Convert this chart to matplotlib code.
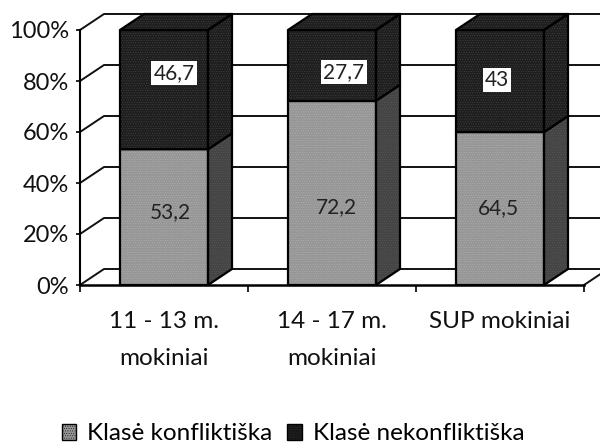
import matplotlib
matplotlib.use("Agg")
import matplotlib.pyplot as plt
from matplotlib.patches import Polygon, Rectangle

plt.rcParams['font.family'] = ['Lato', 'DejaVu Sans']
plt.rcParams['hatch.linewidth'] = 0.3

# Datos
categorias = ['11 - 13 m.\nmokiniai', '14 - 17 m.\nmokiniai', 'SUP mokiniai']
konfliktiska = [53.2, 72.2, 64.5]
nekonfliktiska = [46.7, 27.7, 43]
serie_nombres = ['Klasė konfliktiška', 'Klasė nekonfliktiška']
y_ticks = [0, 20, 40, 60, 80, 100]
y_labels = ['0%', '20%', '40%', '60%', '80%', '100%']

W, H = 600, 446
fig = plt.figure(figsize=(W / 100, H / 100), dpi=100)
ax = fig.add_axes([80 / W, (H - 285) / H, 504 / W, 255 / H])
ax.set_xlim(0, 3)
ax.set_ylim(0, 100)

# Profundidad 3D en unidades de datos
dx = 24 / 168
dy = 16 / 255 * 100
ancho = 88 / 168
TRAMA = '.......'


def poligono(puntos, color, ctrama, z):
    ax.add_patch(Polygon(puntos, closed=True, facecolor=color, edgecolor=ctrama, hatch=TRAMA, lw=0, zorder=z,
                         clip_on=False))
    ax.add_patch(Polygon(puntos, closed=True, fill=False, edgecolor='black', lw=1.6, zorder=z + 0.1,
                         clip_on=False, joinstyle='round'))


def caja(x0, x1, y0, y1, frente, lado, tapa, z):
    poligono([(x0, y0), (x1, y0), (x1, y1), (x0, y1)], frente[0], frente[1], z)
    poligono([(x1, y0), (x1 + dx, y0 + dy), (x1 + dx, y1 + dy), (x1, y1)], lado[0], lado[1], z)
    poligono([(x0, y1), (x1, y1), (x1 + dx, y1 + dy), (x0 + dx, y1 + dy)], tapa[0], tapa[1], z)


# Paredes: lineas del fondo y diagonales
for t in y_ticks:
    ax.plot([0, dx, 3 + dx], [t, t + dy, t + dy], color='#111111', lw=1.4, zorder=1, clip_on=False)
ax.plot([3, 3 + dx], [0, dy], color='#111111', lw=1.4, zorder=1, clip_on=False)

# Barras apiladas al 100%
gris = ('#969696', '#b4b4b4')
gris_lado = ('#444444', '#5c5c5c')
negro = ('#1e1e1e', '#4a4a4a')
for i in range(len(categorias)):
    total = konfliktiska[i] + nekonfliktiska[i]
    alto = konfliktiska[i] / total * 100
    x0 = i + 0.5 - ancho / 2
    x1 = i + 0.5 + ancho / 2
    caja(x0, x1, 0, alto, gris, gris_lado, gris, 3)
    caja(x0, x1, alto, 100, negro, negro, negro, 4)

# Etiquetas de valor, colocadas a mano como en el original (en pixeles)
centros_nek_px = [(174, 73), (344, 72), (497, 80)]
centros_konf_px = [(170, 212), (336, 207), (498, 208)]


def a_datos(px, py):
    return (px - 80) / 168, (285 - py) / 255 * 100


for (px, py), v in zip(centros_konf_px, konfliktiska):
    x, y = a_datos(px, py)
    ax.text(x, y, str(v).replace('.', ','), ha='center', va='center', fontsize=15, color='#222222', zorder=6)
for (px, py), v in zip(centros_nek_px, nekonfliktiska):
    x, y = a_datos(px, py)
    ax.text(x, y, str(v).replace('.', ','), ha='center', va='center', fontsize=15, color='#222222', zorder=6,
            bbox=dict(facecolor='white', edgecolor='none', pad=1.5))

# Ejes
for s in ['top', 'right']:
    ax.spines[s].set_visible(False)
ax.spines['left'].set_linewidth(1.5)
ax.spines['bottom'].set_linewidth(1.8)
ax.spines['left'].set_zorder(5)
ax.spines['bottom'].set_zorder(5)
ax.patch.set_alpha(0)
ax.set_yticks(y_ticks, y_labels, fontsize=17, color='#111111')
ax.tick_params(axis='y', length=3, width=1.2, pad=5)
ax.set_xticks([0, 1, 2, 3], ['', '', '', ''])
ax.tick_params(axis='x', which='major', length=5, width=1.2)
ax.set_xticks([0.5, 1.5, 2.5], categorias, minor=True, fontsize=17.5, color='#111111', linespacing=1.9, va='top')
ax.tick_params(axis='x', which='minor', length=0, pad=19)

# Leyenda
handles = [Rectangle((0, 0), 1, 1, facecolor=gris[0], edgecolor='black', hatch=TRAMA, lw=1),
           Rectangle((0, 0), 1, 1, facecolor=negro[0], edgecolor='black', hatch=TRAMA, lw=1)]
fig.legend(handles, serie_nombres, loc='center', bbox_to_anchor=(293 / W, 1 - 434 / H), ncol=2, frameon=False,
           fontsize=17.5, handlelength=0.6, handleheight=0.6, handletextpad=0.45, columnspacing=0.6)

fig.savefig('out.png', dpi=100)
